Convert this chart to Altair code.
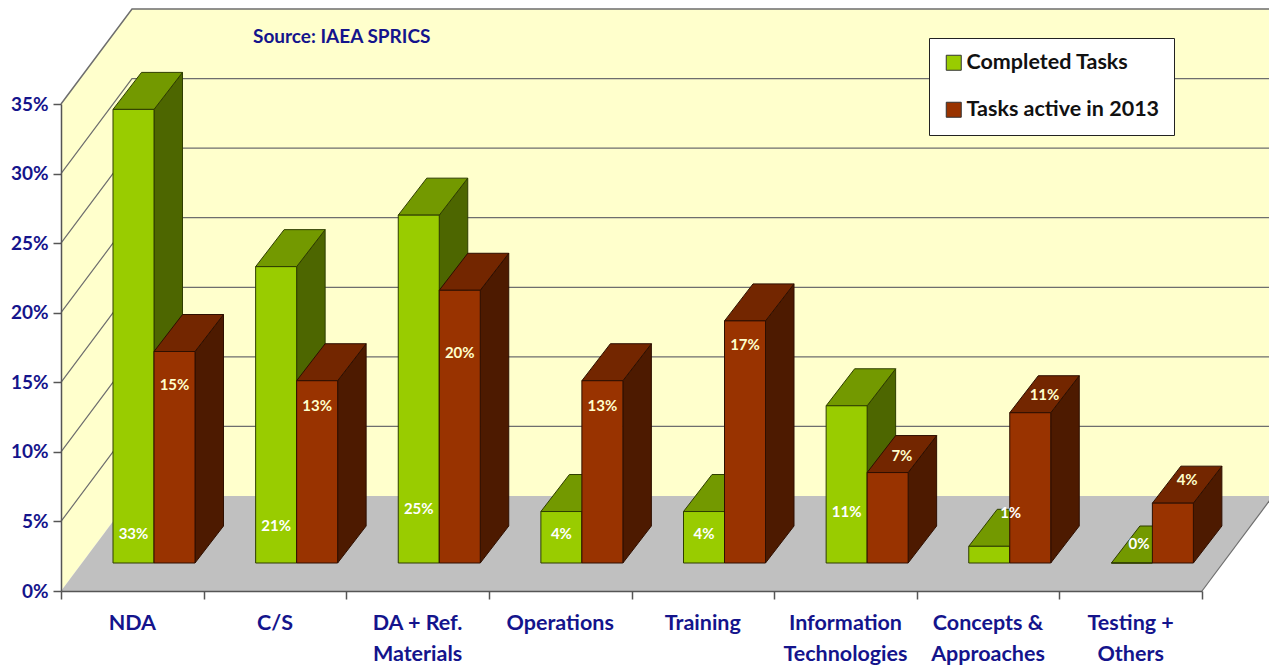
import altair as alt
import pandas as pd

categories = ["NDA", "C/S", "DA + Ref.\nMaterials", "Operations", "Training",
              "Information\nTechnologies", "Concepts &\nApproaches", "Testing +\nOthers"]
completed = [32.6, 21.3, 25.0, 3.7, 3.7, 11.3, 1.2, 0.0]
active = [15.2, 13.1, 19.6, 13.1, 17.4, 6.5, 10.8, 4.3]
completed_labels = ["33%", "21%", "25%", "4%", "4%", "11%", "1%", "0%"]
active_labels = ["15%", "13%", "20%", "13%", "17%", "7%", "11%", "4%"]
completed_label_at = [4.1, 4.7, 5.9, 4.1, 4.1, 5.7, 5.6, 3.4]
active_label_at = [14.8, 13.3, 17.1, 13.3, 17.7, 9.7, 14.1, 8.0]
completed_label_shift = [0, 0, 0, 0, 0, 0, 0.75, 0.25]
active_label_shift = [0, 0, 0, 0, 0, 0.5, 0.5, 0.5]
series = ["Completed Tasks", "Tasks active in 2013"]
grid_levels = [5, 10, 15, 20, 25, 30]

PX_X = 1141 / 8
PX_Y = 487 / 35
N = len(categories)
# 3-D projection expressed in data units
BACK_X, BACK_Y = 71 / PX_X, 95 / PX_Y      # full floor depth
FRONT_X, FRONT_Y = 21 / PX_X, 28 / PX_Y    # floor front to bar front
DEPTH_X, DEPTH_Y = 28.5 / PX_X, 37 / PX_Y  # bar depth
GAP, BAR_W = 31 / PX_X, 41 / PX_X

xs = alt.Scale(domain=[0, 8], range=[0, 1141], nice=False, zero=False)
ys = alt.Scale(domain=[0, 35], range=[583, 96], nice=False, zero=False)


def X(f="x", **k):
    return alt.X(f"{f}:Q", scale=xs, title=None, **k)


def Y(f="y", **k):
    return alt.Y(f"{f}:Q", scale=ys, title=None, **k)


def bar_frames(values, name, slot):
    front, side, top = [], [], []
    for i, v in enumerate(values):
        x0 = i + FRONT_X + GAP + slot * BAR_W
        x1 = x0 + BAR_W
        front.append(dict(id=i, x=x0, x2=x1, y=FRONT_Y, y2=FRONT_Y + v, series=name))
        side += [dict(id=i, x=x1, y=FRONT_Y, y2=FRONT_Y + v),
                 dict(id=i, x=x1 + DEPTH_X, y=FRONT_Y + DEPTH_Y, y2=FRONT_Y + DEPTH_Y + v)]
        top += [dict(id=i, y=FRONT_Y + v, x=x0, x2=x1),
                dict(id=i, y=FRONT_Y + DEPTH_Y + v, x=x0 + DEPTH_X, x2=x1 + DEPTH_X)]
    return pd.DataFrame(front), pd.DataFrame(side), pd.DataFrame(top)


def bar_layers(values, name, slot, face, roof, wall, edge):
    front, side, top = bar_frames(values, name, slot)
    return [
        alt.Chart(side).mark_area(fill=wall, stroke=edge, strokeWidth=1, opacity=1).encode(
            x=X(), y=Y(), y2="y2:Q", detail="id:N"),
        alt.Chart(top).mark_area(orient="horizontal", fill=roof, stroke=edge, strokeWidth=1, opacity=1).encode(
            y=Y(), x=X(), x2="x2:Q", detail="id:N"),
        alt.Chart(front).mark_rect(stroke=edge, strokeWidth=1).encode(
            x=X(), x2="x2:Q", y=Y(), y2="y2:Q",
            color=alt.Color("series:N", title=None,
                            scale=alt.Scale(domain=series, range=["#99CC00", "#993300"]),
                            legend=alt.Legend(
                                orient="none", legendX=868, legendY=30,
                                fillColor="white", strokeColor="#222222",
                                padding=14, symbolType="square", symbolSize=225,
                                symbolStrokeColor="#333333", symbolStrokeWidth=1,
                                symbolOpacity=1,
                                labelFont="Lato", labelFontWeight="bold", labelFontSize=21.5,
                                labelColor="#111111", labelOffset=2, rowPadding=24,
                                labelLimit=300))),
    ]


WALL_FILL, GRID, NAVY = "#FFFFCC", "#6E6E6E", "#14148C"

left_wall = pd.DataFrame([dict(x=0, y=0, y2=35),
                          dict(x=BACK_X, y=BACK_Y, y2=35 + BACK_Y)])
back_wall = pd.DataFrame([dict(x=BACK_X, x2=8 + BACK_X, y=BACK_Y, y2=35 + BACK_Y)])
floor = pd.DataFrame([dict(y=0, x=0, x2=8),
                      dict(y=BACK_Y, x=BACK_X, x2=8 + BACK_X)])
grid_rows = []
for lv in grid_levels:
    grid_rows += [dict(level=lv, step=0, x=0, y=lv),
                  dict(level=lv, step=1, x=BACK_X, y=lv + BACK_Y),
                  dict(level=lv, step=2, x=8 + BACK_X, y=lv + BACK_Y)]
grid = pd.DataFrame(grid_rows)
top_edge = pd.DataFrame([dict(step=0, x=0, y=35), dict(step=1, x=BACK_X, y=35 + BACK_Y),
                         dict(step=2, x=8 + BACK_X, y=35 + BACK_Y)])

walls = [
    alt.Chart(left_wall).mark_area(fill=WALL_FILL, opacity=1).encode(
        x=X(axis=alt.Axis(values=list(range(9)), labels=False, ticks=True, tickSize=8,
                          tickColor="#555555", domainColor="#555555", grid=False, zindex=1,
                          domainWidth=1.5, tickWidth=1.5, offset=-74)),
        y=Y(axis=alt.Axis(values=list(range(0, 36, 5)), labelExpr="datum.value + '%'",
                          tickSize=8, tickColor="#555555", domainColor="#555555", grid=False,
                          zindex=1, labelFont="Lato", labelFontWeight="bold", labelFontSize=19,
                          labelColor=NAVY, labelPadding=5, domainWidth=1.5, tickWidth=1.5)),
        y2="y2:Q"),
    alt.Chart(back_wall).mark_rect(fill=WALL_FILL).encode(x=X(), x2="x2:Q", y=Y(), y2="y2:Q"),
    alt.Chart(floor).mark_area(orient="horizontal", fill="#C0C0C0", opacity=1).encode(
        y=Y(), x=X(), x2="x2:Q"),
    alt.Chart(grid).mark_line(color=GRID, strokeWidth=1.2).encode(
        x=X(), y=Y(), detail="level:N", order="step:Q"),
    alt.Chart(top_edge).mark_line(color=GRID, strokeWidth=1.5).encode(
        x=X(), y=Y(), order="step:Q"),
    alt.Chart(floor).mark_line(color=GRID, strokeWidth=1.2).encode(
        x=X("x2"), y=Y(), order="y:Q"),
]

label_rows = []
for i in range(N):
    c_x = i + FRONT_X + GAP + 0.5 * BAR_W
    a_x = c_x + BAR_W
    label_rows.append(dict(x=c_x + completed_label_shift[i] * DEPTH_X,
                           y=completed_label_at[i], t=completed_labels[i], c="white"))
    label_rows.append(dict(x=a_x + active_label_shift[i] * DEPTH_X,
                           y=active_label_at[i], t=active_labels[i], c=WALL_FILL))
label_df = pd.DataFrame(label_rows)
bar_text = alt.Chart(label_df).mark_text(
    font="Lato", fontWeight="bold", fontSize=15, baseline="middle", align="center"
).encode(x=X(), y=Y(), text="t:N", color=alt.Color("c:N", scale=None, legend=None))

cat_df = pd.DataFrame(dict(x=[i + 0.5 for i in range(N)], y=[-1.6] * N, t=categories))
cat_text = alt.Chart(cat_df).mark_text(
    font="Lato", fontWeight="bold", fontSize=21.5, color=NAVY, baseline="top", align="center",
    lineBreak="\n", lineHeight=31
).encode(x=X(), y=Y(), text="t:N")

source = alt.Chart(pd.DataFrame(dict(t=["Source: IAEA SPRICS"]))).mark_text(
    font="Lato", fontWeight="bold", fontSize=19, color=NAVY, align="left", baseline="middle"
).encode(x=alt.value(192), y=alt.value(29), text="t:N")

layers = walls \
    + bar_layers(completed, series[0], 0, "#99CC00", "#739900", "#4D6600", "#2E3D00") \
    + bar_layers(active, series[1], 1, "#993300", "#732600", "#4D1A00", "#2E0F00") \
    + [bar_text, cat_text, source]

chart = alt.layer(*layers).properties(
    width=1208, height=657,
    padding={"left": 53, "top": 0, "right": 0, "bottom": 0},
    autosize=alt.AutoSizeParams(type="none"),
    background="white",
).configure_view(stroke=None)

chart.save("out.html", embed_options={"renderer": "svg", "actions": False})
